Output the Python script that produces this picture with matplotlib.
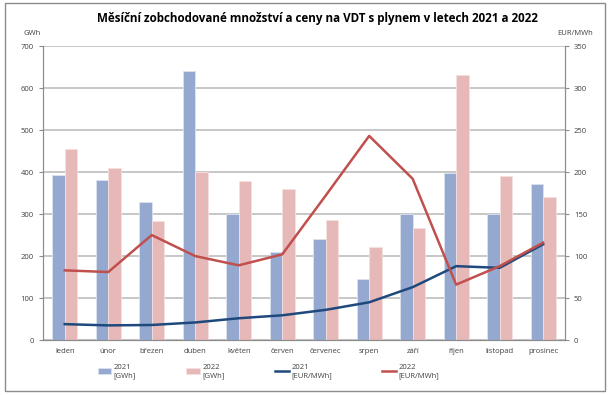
import matplotlib.pyplot as plt
import numpy as np
from matplotlib.patches import Rectangle

months = ["leden", "únor", "březen", "duben", "květen", "červen",
          "červenec", "srpen", "září", "říjen", "listopad", "prosinec"]
volume_2021 = [392, 382, 328, 640, 300, 210, 240, 145, 300, 398, 300, 372]
volume_2022 = [456, 409, 284, 400, 379, 359, 285, 221, 268, 632, 391, 341]
price_2021 = [19, 17.5, 18, 21, 26, 29.5, 36, 45, 63, 88, 86, 114]
price_2022 = [83, 81, 125, 100, 89, 102, 172, 243, 192, 66, 88, 116]

plt.rcParams["font.family"] = ["Open Sans", "DejaVu Sans"]

fig = plt.figure(figsize=(6.1, 3.95), dpi=100)
ax = fig.add_axes([0.0705, 0.139, 0.8555, 0.7445])
ax2 = ax.twinx()

x = np.arange(len(months))
width = 0.29
grid_color = "#BDBDBD"

ax.bar(x - width / 2, volume_2021, width, color="#95A9D0", edgecolor="#DCE3F0", linewidth=0.6,
       label="2021\n[GWh]", zorder=2)
ax.bar(x + width / 2, volume_2022, width, color="#E6B9B8", edgecolor="#F5E0E0", linewidth=0.6,
       label="2022\n[GWh]", zorder=2)
ax.set_ylim(0, 700)
ax.set_yticks(range(0, 701, 100))
ax.set_xlim(-0.5, len(months) - 0.5)
ax.set_xticks(x)
ax.set_xticklabels(months)
ax.yaxis.grid(True, color=grid_color, linewidth=1.2, zorder=0)
ax.set_axisbelow(True)

ax2.plot(x, price_2021, color="#1F497D", linewidth=1.8, label="2021\n[EUR/MWh]", zorder=3)
ax2.plot(x, price_2022, color="#C0504D", linewidth=1.8, label="2022\n[EUR/MWh]", zorder=3)
ax2.set_ylim(0, 350)
ax2.set_yticks(range(0, 351, 50))

for axis in (ax, ax2):
    axis.tick_params(labelsize=5.5, colors="#404040", length=3, width=0.8)
    axis.spines["top"].set_visible(False)
    for side in ("left", "right", "bottom"):
        axis.spines[side].set_color("#8C8C8C")
ax.tick_params(axis="x", length=0, pad=6)
ax.tick_params(axis="y", colors="#8C8C8C", labelcolor="#404040")
ax2.tick_params(axis="y", colors="#8C8C8C", labelcolor="#404040")

fig.text(0.52, 0.954, "Měsíční zobchodované množství a ceny na VDT s plynem v letech 2021 a 2022",
         ha="center", va="center", fontsize=8.4, fontweight="bold")
fig.text(0.038, 0.915, "GWh", ha="left", va="center", fontsize=5.5, color="#404040")
fig.text(0.972, 0.915, "EUR/MWh", ha="right", va="center", fontsize=5.5, color="#404040")

handles1, labels1 = ax.get_legend_handles_labels()
handles2, labels2 = ax2.get_legend_handles_labels()
fig.legend(handles1 + handles2, labels1 + labels2, loc="center", bbox_to_anchor=(0.44, 0.06),
           ncol=4, frameon=False, fontsize=5.5, handlelength=1.8, columnspacing=6.6,
           handletextpad=0.3, labelcolor="#404040")

fig.patches.append(Rectangle((0.008, 0.01), 0.984, 0.982, transform=fig.transFigure,
                             fill=False, edgecolor="#8C8C8C", linewidth=1))

fig.savefig("out.png", dpi=100)
